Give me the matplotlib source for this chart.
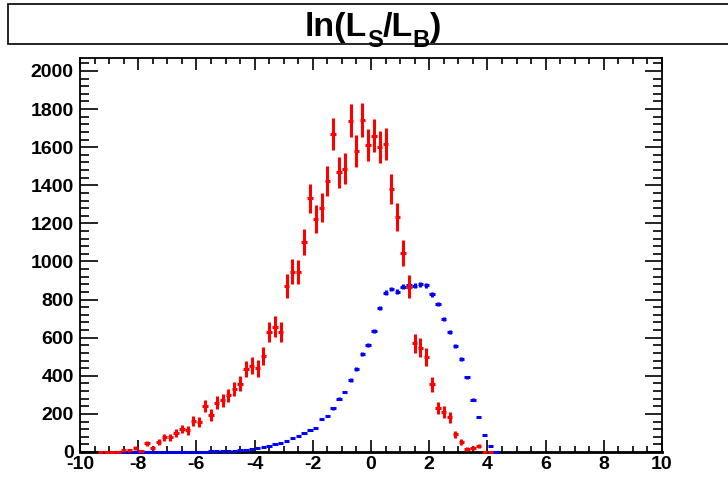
import numpy as np
import matplotlib
matplotlib.use("Agg")
import matplotlib.pyplot as plt
from matplotlib import font_manager
from matplotlib.patches import Rectangle
from matplotlib.ticker import MultipleLocator

names = {f.name for f in font_manager.fontManager.ttflist}
font = 'Liberation Sans Narrow' if 'Liberation Sans Narrow' in names else 'Liberation Sans'

plt.rcParams.update({
    'font.family': font,
    'font.weight': 'bold',
    'axes.unicode_minus': False,
})

nan = np.nan
# 100 bins of width 0.2 on [-10, 10]; nan = bin not drawn
bin_edges = np.linspace(-10, 10, 101)

# signal (red)
sig_counts = [
    nan, nan, nan, 0, 0, 0, 0, 8, 8, 23,
    6, 45, 23, 53, 77, 77, 101, 121, 114, 161,
    155, 242, 194, 258, 271, 297, 330, 358, 436, 453,
    439, 506, 632, 658, 632, 870, 946, 944, 1102, 1332,
    1221, 1283, 1423, 1669, 1468, 1486, 1739, 1578, 1743, 1612,
    1660, 1600, 1617, 1379, 1234, 1046, 868, 571, 548, 497,
    355, 229, 210, 182, 92, 51, 16, 21, 31, 0,
    0, nan, nan, nan, nan, nan, nan, nan, nan, nan,
    nan, nan, nan, nan, nan, nan, nan, nan, nan, nan,
    nan, nan, nan, nan, nan, nan, nan, nan, nan, nan,
]

# background (blue)
bkg_counts = [
    nan, nan, nan, nan, nan, nan, 0, 0, 0, 0,
    0, 0, 0, 0, 1, 1, 1, 1, 1, 2,
    2, 2, 3, 3, 4, 5, 7, 9, 13, 17,
    21, 26, 33, 40, 47, 59, 72, 84, 98, 117,
    126, 173, 189, 229, 280, 315, 378, 436, 513, 560,
    637, 756, 836, 856, 842, 868, 875, 873, 880, 875,
    828, 778, 697, 628, 558, 488, 392, 275, 182, 91,
    33, 2, nan, nan, nan, nan, nan, nan, nan, nan,
    nan, nan, nan, nan, nan, nan, nan, nan, nan, nan,
    nan, nan, nan, nan, nan, nan, nan, nan, nan, nan,
]

# per-entry weights (errors = sqrt(w * content))
sig_weight = 4.4
bkg_weight = 0.17

# title pieces: (text, is_subscript)
title_parts = [("ln(L", False), ("S", True), ("/L", False), ("B", True), (")", False)]

W, H = 728, 479
fig = plt.figure(figsize=(W / 100, H / 100), dpi=100)
ax = fig.add_axes([80 / W, 1 - 452 / H, 582 / W, 394 / H])

centers = 0.5 * (bin_edges[:-1] + bin_edges[1:])
halfw = 0.5 * np.diff(bin_edges) * 0.92

sig = np.array(sig_counts, dtype=float)
bkg = np.array(bkg_counts, dtype=float)

ax.errorbar(centers, bkg, xerr=halfw, yerr=np.sqrt(bkg_weight * bkg),
            fmt='none', ecolor='#0000ff', elinewidth=2.2, capsize=0,
            zorder=3, clip_on=False)
ax.errorbar(centers, sig, xerr=halfw, yerr=np.sqrt(sig_weight * sig),
            fmt='none', ecolor='#ff0000', elinewidth=2.2, capsize=0,
            zorder=4, clip_on=False)

ax.set_xlim(-10, 10)
ax.set_ylim(0, 2068)

ax.xaxis.set_major_locator(MultipleLocator(2))
ax.xaxis.set_minor_locator(MultipleLocator(0.5))
ax.yaxis.set_major_locator(MultipleLocator(200))
ax.yaxis.set_minor_locator(MultipleLocator(40))

ax.tick_params(axis='both', which='both', direction='in',
               top=True, right=True, width=1.2, color='black')
ax.tick_params(axis='x', which='major', length=8.6, pad=3, labelsize=14)
ax.tick_params(axis='x', which='minor', length=4.3)
ax.tick_params(axis='y', which='major', length=12.6, pad=4.5, labelsize=14)
ax.tick_params(axis='y', which='minor', length=6.3)
for s in ax.spines.values():
    s.set_linewidth(1.3)
ax.spines['bottom'].set_linewidth(2)

fig.canvas.draw()
ax.get_yticklabels()[0].set_va('bottom')

# title box
fig.patches.append(Rectangle((8 / W, 1 - 44 / H), 740 / W, 40 / H,
                             transform=fig.transFigure, facecolor='white',
                             edgecolor='black', linewidth=1.2))

# title built piece by piece so the subscripts sit low, ROOT-style
renderer = fig.canvas.get_renderer()
main_size, sub_size = 24.5, 17
base_y, sub_y = 36, 47          # baselines, px from top
texts = []
for txt, sub in title_parts:
    t = fig.text(0, 1 - (sub_y if sub else base_y) / H, txt,
                 fontsize=sub_size if sub else main_size,
                 ha='left', va='baseline', fontweight='bold')
    texts.append(t)
widths = [t.get_window_extent(renderer).width for t in texts]
x = 373 - sum(widths) / 2
for t, w in zip(texts, widths):
    t.set_x(x / W)
    x += w

fig.savefig('out.png', dpi=100)
